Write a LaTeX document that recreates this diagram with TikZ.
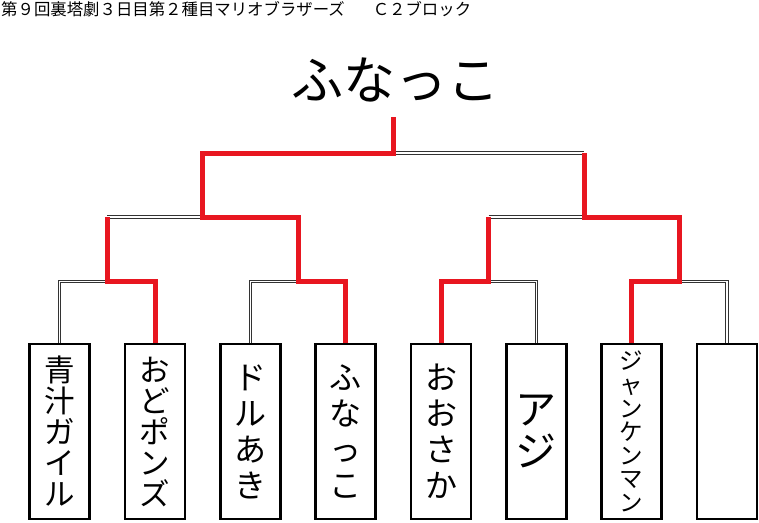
\documentclass[tikz,border=0pt]{standalone}
\usepackage{fontspec}
\newfontfamily\jp{Noto Sans CJK JP}
\definecolor{winred}{RGB}{232,22,32}
\tikzset{
  entry/.style={draw=black, line width=2.6pt, minimum width=60pt, minimum height=175pt, inner sep=0pt, align=center, fill=white},
  lose/.style={draw=black!80, line width=0.9pt, double=white, double distance=1.6pt},
  win/.style={draw=winred, line width=5pt, line join=miter},
  fs/.style={font=\jp\fontsize{#1}{#1}\selectfont},
}
\begin{document}
\begin{tikzpicture}[x=1pt,y=-1pt]
\useasboundingbox (0,0) rectangle (759,522);

\node[anchor=base west, inner sep=0pt, fs=16.4] (title) at (1,15) {第９回裏塔劇３日目第２種目マリオブラザーズ\hspace{28pt}Ｃ２ブロック};
\node[inner sep=0pt, fs=52] (champ) at (395,80) {ふなっこ};
\coordinate (top) at (393.3,117);

% join points
\coordinate (m12) at (107.3,281.5);
\coordinate (m34) at (298,281.5);
\coordinate (m56) at (488.7,281.5);
\coordinate (m78) at (679.4,281.5);
\coordinate (q1) at (107.3,217);
\coordinate (q2) at (298,217);
\coordinate (q3) at (488.7,217);
\coordinate (q4) at (679.4,217);
\coordinate (s1) at (202.6,217);
\coordinate (s2) at (584,217);
\coordinate (h1) at (202.6,153);
\coordinate (h2) at (584,153);
\coordinate (f) at (393.3,153);

% entries
\node[entry, font=\jp\fontsize{30.5}{31}\selectfont] (e1) at (59.6,431.5) {青\\汁\\ガ\\イ\\ル};
\node[entry, font=\jp\fontsize{30.5}{31}\selectfont] (e2) at (155,431.5) {お\\ど\\ポ\\ン\\ズ};
\node[entry, font=\jp\fontsize{32}{36}\selectfont] (e3) at (250.3,431.5) {ド\\ル\\あ\\き};
\node[entry, font=\jp\fontsize{32}{36}\selectfont] (e4) at (345.7,431.5) {ふ\\な\\っ\\こ};
\node[entry, font=\jp\fontsize{32}{36}\selectfont] (e5) at (441,431.5) {お\\お\\さ\\か};
\node[entry, font=\jp\fontsize{41}{42}\selectfont] (e6) at (536.4,431.5) {ア\\ジ};
\node[entry, font=\jp\fontsize{23.5}{23.6}\selectfont] (e7) at (631.7,431.5) {ジ\\ャ\\ン\\ケ\\ン\\マ\\ン};
\node[entry] (e8) at (727,431.5) {};

% losing lines
\draw[lose] (e1.north) |- (m12);
\draw[lose] (e3.north) |- (m34);
\draw[lose] (e6.north) |- (m56);
\draw[lose] (e8.north) |- (m78);
\draw[lose] (q1) -- (s1);
\draw[lose] (q3) -- (s2);
\draw[lose] (h2) -- (f);

% winning lines
\draw[win] (e2.north) |- (m12) -- (q1);
\draw[win] (e4.north) |- (m34) -- (q2) -- (s1) -- (h1) -- (f) -- (top);
\draw[win] (e5.north) |- (m56) -- (q3);
\draw[win] (e7.north) |- (m78) -- (q4) -- (s2) -- (h2);
\end{tikzpicture}
\end{document}
